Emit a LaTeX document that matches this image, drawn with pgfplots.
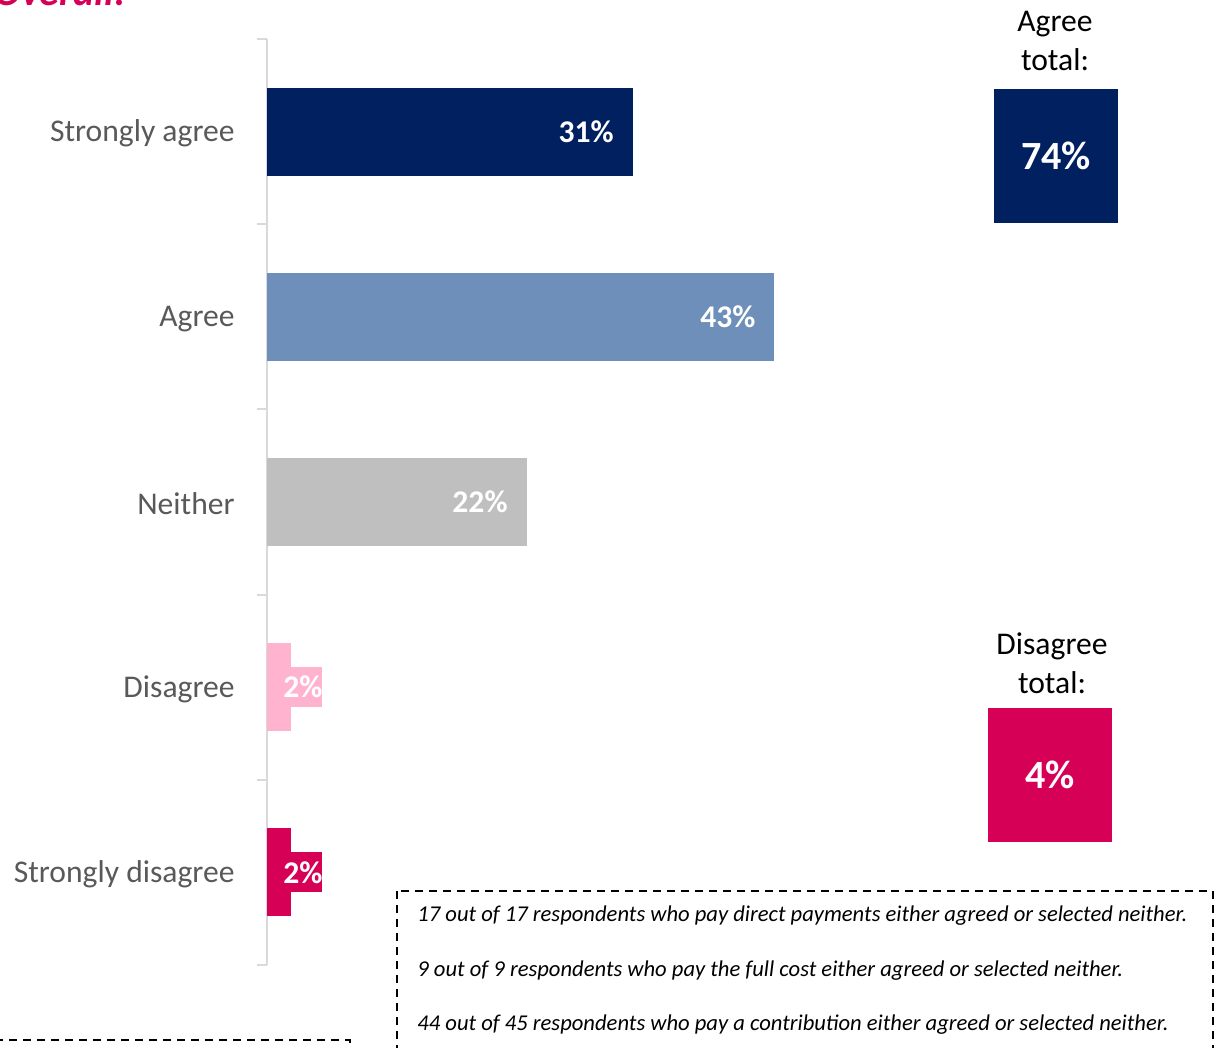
\documentclass[border=0pt]{standalone}
\usepackage{pgfplots}
\pgfplotsset{compat=1.18}
\usepackage{fontspec}
\setmainfont{Carlito}
\definecolor{navy}{HTML}{002060}
\definecolor{agreeblue}{HTML}{6E8FB9}
\definecolor{neithergray}{HTML}{BFBFBF}
\definecolor{lightpink}{HTML}{FFB3CF}
\definecolor{crimson}{HTML}{D60057}
\definecolor{axisgray}{HTML}{D9D9D9}
\definecolor{labelgray}{HTML}{595959}
\begin{document}
\begin{tikzpicture}[x=0.5pt,y=0.5pt]
\path[use as bounding box] (0,0) rectangle (1216,1048);
\begin{axis}[
  at={(133.5pt,41.5pt)}, anchor=south west,
  scale only axis, width=472pt, height=463pt,
  xmin=0, xmax=80, ymin=0.5, ymax=5.5,
  axis x line=none,
  axis y line*=left,
  y axis line style={draw=axisgray, line width=1pt},
  ytick={1,2,3,4,5},
  yticklabels={Strongly disagree, Disagree, Neither, Agree, Strongly agree},
  major tick length=0pt,
  yticklabel style={font=\fontsize{15.8}{19}\selectfont, text=labelgray, inner sep=0pt, yshift=-1pt},
  yticklabel shift=16pt,
  extra y ticks={0.5,1.5,2.5,3.5,4.5,5.5},
  extra y tick labels={},
  extra y tick style={major tick length=5pt, tick align=outside, tick style={draw=axisgray, line width=1pt}},
  xbar, bar width=44pt, bar shift=0pt,
  point meta=x,
  /pgf/number format/assume math mode=true,
  clip=false,
  bignode/.style={nodes near coords={\pgfmathprintnumber{\pgfplotspointmeta}\%},
    every node near coord/.style={anchor=east, xshift=-6pt, text=white, font=\bfseries\fontsize{15.8}{19}\selectfont}},
  smallnode/.style={nodes near coords={\pgfmathprintnumber{\pgfplotspointmeta}\%},
    every node near coord/.style={anchor=west, xshift=-3.8pt, text=white, fill=#1, inner xsep=0pt, inner ysep=0pt, minimum height=20pt, font=\bfseries\fontsize{15.8}{19}\selectfont}},
]
\addplot[fill=navy, draw=none, bignode] coordinates {(31,5)};
\addplot[fill=agreeblue, draw=none, bignode] coordinates {(43,4)};
\addplot[fill=neithergray, draw=none, bignode] coordinates {(22,3)};
\addplot[fill=lightpink, draw=none, smallnode=lightpink] coordinates {(2,2)};
\addplot[fill=crimson, draw=none, smallnode=crimson] coordinates {(2,1)};
\end{axis}
% title (cut at top)
\node[anchor=base west, text=crimson, font=\bfseries\itshape\fontsize{20}{24}\selectfont, inner sep=0pt] at (-6,1042) {Overall:};
% totals
\node[align=center, font=\fontsize{15.8}{19.5}\selectfont, inner sep=0pt] at (1055,1006.5) {Agree\\total:};
\node[fill=navy, minimum width=62pt, minimum height=67pt, inner sep=0pt, text=white, font=\bfseries\fontsize{20}{24}\selectfont] at (1056,892) {74\%};
\node[align=center, font=\fontsize{15.8}{19.5}\selectfont, inner sep=0pt] at (1052,385) {Disagree\\total:};
\node[fill=crimson, minimum width=62pt, minimum height=67pt, inner sep=0pt, text=white, font=\bfseries\fontsize{20}{24}\selectfont] at (1050,273) {4\%};
% footnote box
\draw[line width=0.75pt, dash pattern=on 4pt off 3pt] (397,157) rectangle (1213,-20);
\begin{scope}[font=\itshape\fontsize{11.3}{13}\selectfont]
\node[anchor=base west, inner sep=0pt] at (417,126) {17 out of 17 respondents who pay direct payments either agreed or selected neither.};
\node[anchor=base west, inner sep=0pt] at (417,71) {9 out of 9 respondents who pay the full cost either agreed or selected neither.};
\node[anchor=base west, inner sep=0pt] at (417,17) {44 out of 45 respondents who pay a contribution either agreed or selected neither.};
\end{scope}
\draw[line width=0.75pt, dash pattern=on 4pt off 3pt] (-5,8) -- (350,8) -- (350,-10);
\end{tikzpicture}
\end{document}
